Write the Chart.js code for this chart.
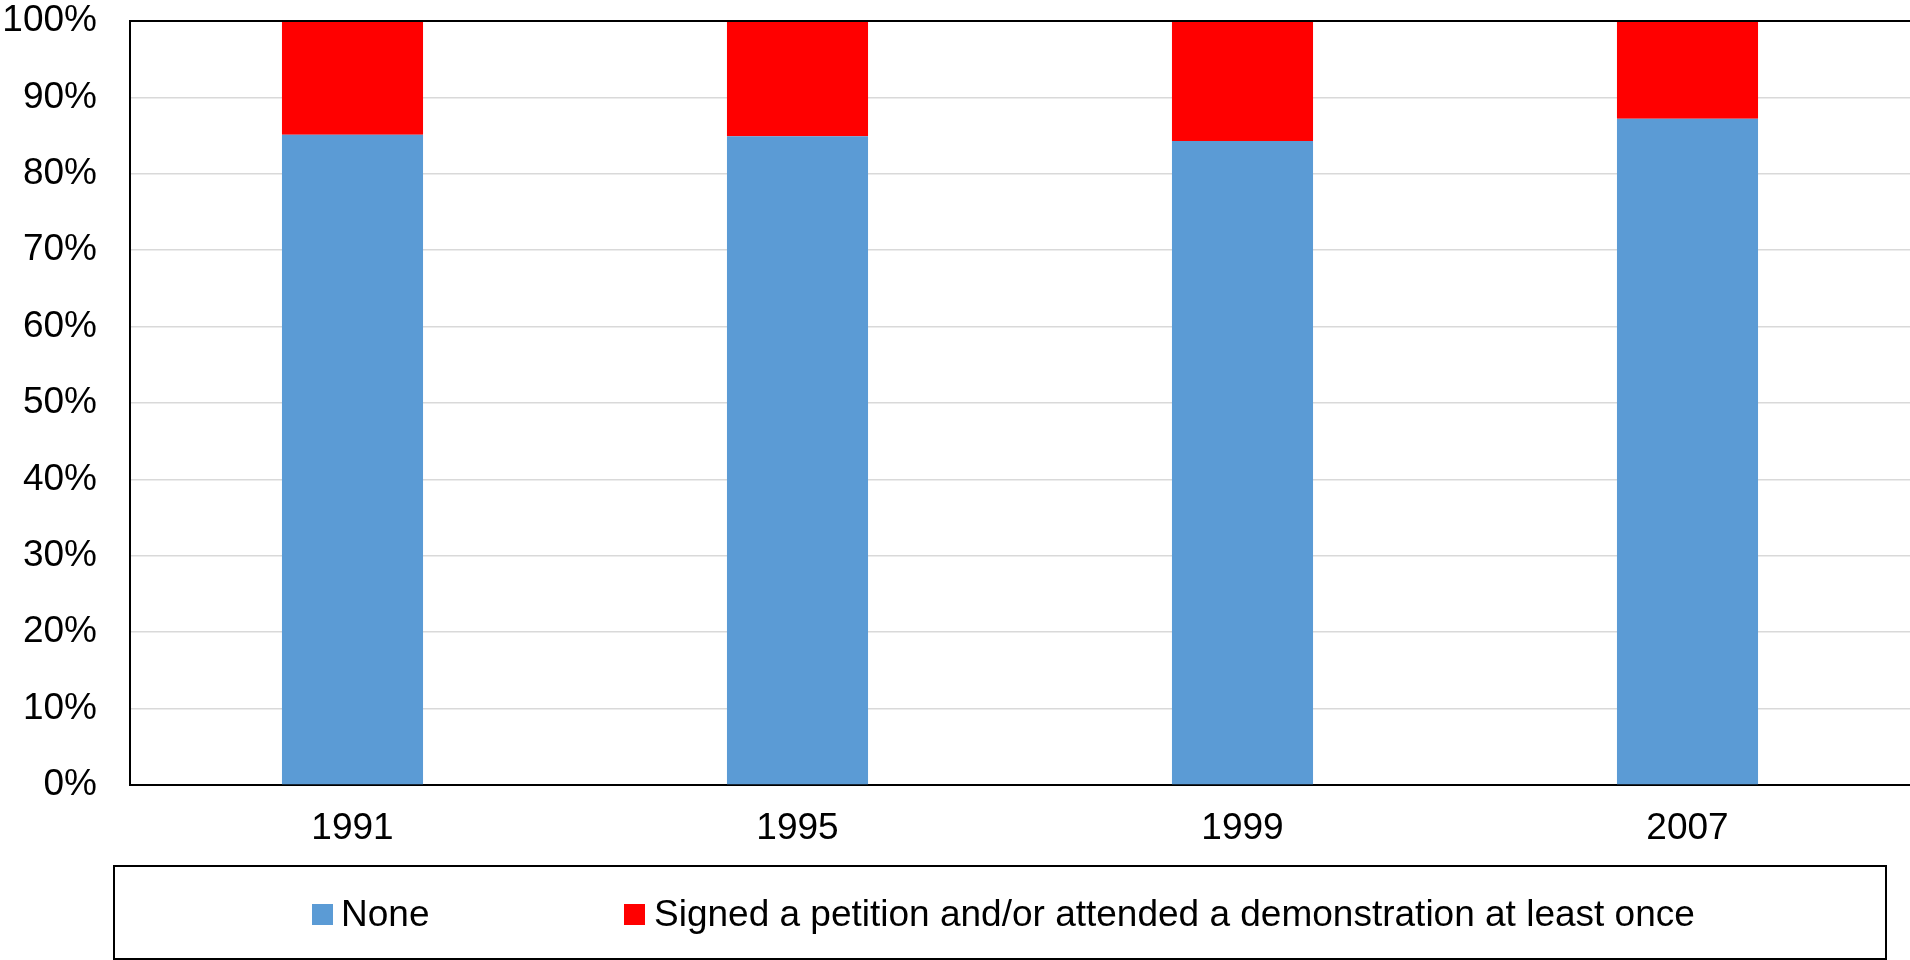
<!DOCTYPE html>
<html>
<head>
<meta charset="utf-8">
<script src="https://cdn.jsdelivr.net/npm/chart.js@4"></script>
<style>
  html, body { margin: 0; padding: 0; background: #fff; }
  #wrap { position: relative; width: 1910px; height: 960px; overflow: hidden; }
  #c { position: absolute; left: 0; top: 0; }
  #legend { position: absolute; left: 113px; top: 865px; width: 1774px; height: 95px;
            border: 2px solid #000; box-sizing: border-box; }
  .sw { position: absolute; width: 21px; height: 21px; top: 37px; }
  .lt { position: absolute; top: 26px; font: 37px "Liberation Sans", Arial, sans-serif; color: #000;
        line-height: 42px; white-space: nowrap; }
</style>
</head>
<body>
<div id="wrap">
  <canvas id="c" width="1910" height="960"></canvas>
  <div id="legend"></div>
</div>
<script>
const categories = ["1991", "1995", "1999", "2007"];
const noneValues = [85.1, 84.9, 84.3, 87.2];
const signedValues = [14.9, 15.1, 15.7, 12.8];
const seriesNames = ["None", "Signed a petition and/or attended a demonstration at least once"];
const seriesColors = ["#5B9BD5", "#FF0000"];
const yTickValues = [0, 10, 20, 30, 40, 50, 60, 70, 80, 90, 100];

const FONT = '"Liberation Sans", Arial, sans-serif';

const frame = {
  id: 'frame',
  afterDraw(chart) {
    const a = chart.chartArea, ctx = chart.ctx;
    ctx.save();
    ctx.strokeStyle = '#000';
    ctx.lineWidth = 2;
    ctx.beginPath();
    ctx.moveTo(a.left, a.top);
    ctx.lineTo(a.right, a.top);
    ctx.stroke();
    ctx.restore();
  }
};

new Chart(document.getElementById('c'), {
  type: 'bar',
  data: {
    labels: categories,
    datasets: [
      { label: seriesNames[0], data: noneValues, backgroundColor: seriesColors[0], borderWidth: 0 },
      { label: seriesNames[1], data: signedValues, backgroundColor: seriesColors[1], borderWidth: 0 }
    ]
  },
  options: {
    responsive: false,
    animation: false,
    devicePixelRatio: 1,
    layout: { padding: { top: 21, left: 0, right: 0, bottom: 0 } },
    plugins: { legend: { display: false }, tooltip: { enabled: false } },
    datasets: { bar: { categoryPercentage: 1, barPercentage: 0.317 } },
    scales: {
      x: {
        stacked: true,
        grid: { display: false, drawTicks: false },
        border: { display: true, color: '#000', width: 2 },
        ticks: { color: '#000', font: { family: FONT, size: 37, lineHeight: 1.14 }, padding: 23, maxRotation: 0 },
        afterFit(s) { s.height = 175; s.paddingLeft = 0; s.paddingRight = 0; }
      },
      y: {
        stacked: true,
        min: 0, max: 100,
        afterBuildTicks(s) { s.ticks = yTickValues.map(v => ({ value: v })); },
        grid: { color: '#d9d9d9', lineWidth: 1.5, drawTicks: false },
        border: { display: true, color: '#000', width: 2 },
        ticks: { color: '#000', font: { family: FONT, size: 37, lineHeight: 1.14 }, padding: 33,
                 callback: v => v + '%' },
        afterFit(s) { s.width = 130; s.paddingTop = 0; s.paddingBottom = 0; }
      }
    }
  },
  plugins: [frame]
});

// HTML legend
const leg = document.getElementById('legend');
const pos = [[197, 226], [509, 539]];
seriesNames.forEach((n, i) => {
  const sw = document.createElement('div');
  sw.className = 'sw';
  sw.style.left = pos[i][0] + 'px';
  sw.style.background = seriesColors[i];
  leg.appendChild(sw);
  const t = document.createElement('div');
  t.className = 'lt';
  t.style.left = pos[i][1] + 'px';
  t.textContent = n;
  leg.appendChild(t);
});
</script>
</body>
</html>
